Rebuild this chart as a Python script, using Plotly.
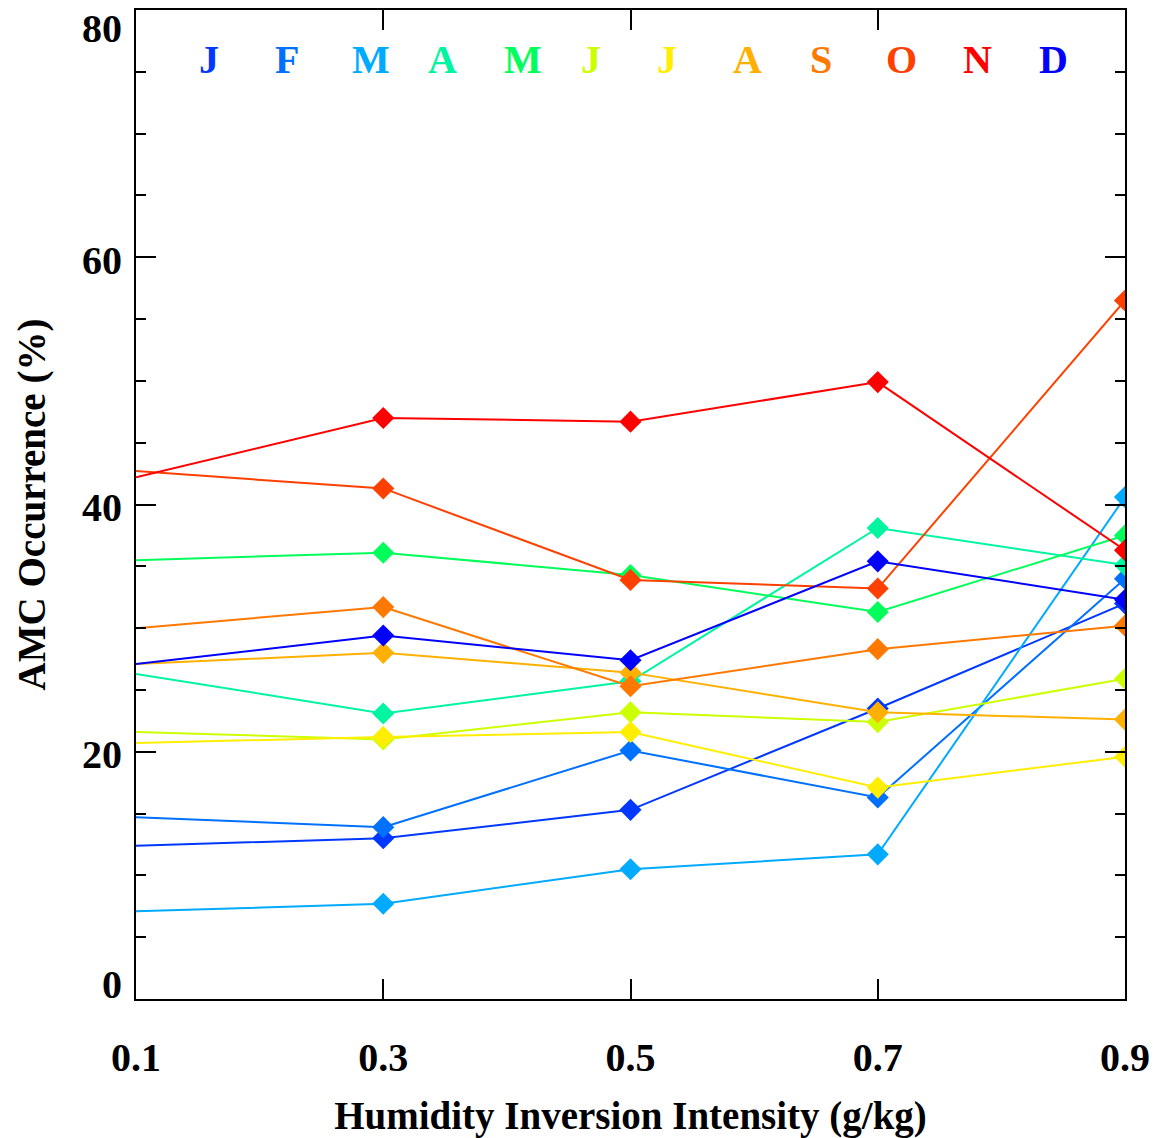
import plotly.graph_objects as go

x_vals = [0.1, 0.3, 0.5, 0.7, 0.9]
x_ticklabels = ["0.1", "0.3", "0.5", "0.7", "0.9"]
y_tickvals = [0, 20, 40, 60, 80]
y_ticklabels = ["0", "20", "40", "60", "80"]

months = ["J", "F", "M", "A", "M", "J", "J", "A", "S", "O", "N", "D"]
month_colors = ["#0038ff", "#0070ff", "#00aaff", "#00f5a0", "#00ff5a", "#ccff00",
                "#ffee00", "#ffb000", "#ff7800", "#ff4000", "#ff0000", "#0000ff"]

jan = [12.4, 13.0, 15.3, 23.5, 32.0]
feb = [14.7, 13.9, 20.1, 16.3, 34.0]
mar = [7.1, 7.7, 10.5, 11.7, 40.6]
apr = [26.3, 23.1, 25.7, 38.1, 35.1]
may = [35.5, 36.1, 34.3, 31.3, 37.5]
jun = [21.6, 21.0, 23.2, 22.4, 25.9]
jul = [20.7, 21.2, 21.6, 17.1, 19.6]
aug = [27.1, 28.0, 26.4, 23.2, 22.6]
sep = [30.0, 31.7, 25.3, 28.3, 30.2]
oct_ = [42.7, 41.3, 33.9, 33.2, 56.5]
nov = [42.2, 47.0, 46.7, 49.9, 36.3]
dec = [27.1, 29.4, 27.4, 35.4, 32.3]

series = [jan, feb, mar, apr, may, jun, jul, aug, sep, oct_, nov, dec]

font_family = "Liberation Serif, Times New Roman, serif"

fig = go.Figure()
for name, vals, col in zip(months, series, month_colors):
    fig.add_trace(go.Scatter(
        x=x_vals, y=vals, mode="lines+markers", name=name,
        line=dict(color=col, width=2),
        marker=dict(symbol="diamond", color=col, size=[0, 17, 17, 17, 17],
                    opacity=1, line=dict(width=0)),
        showlegend=False,
    ))

# month letters along the top
for i, (m, col) in enumerate(zip(months, month_colors)):
    fig.add_annotation(
        x=0.0617 + i * 0.0772, y=0.950, xref="paper", yref="paper",
        text=m, showarrow=False,
        font=dict(family=font_family, size=40, color=col, weight="bold"),
        xanchor="left", yanchor="middle",
    )

tick_font = dict(family=font_family, size=40, color="black", weight="bold")

# y tick labels (IDL-style: top label hangs below the top, bottom label sits above)
for v, lab in zip(y_tickvals, y_ticklabels):
    if v == max(y_tickvals):
        anchor, shift = "top", 6
    elif v == min(y_tickvals):
        anchor, shift = "bottom", -10
    else:
        anchor, shift = "middle", -3
    fig.add_annotation(
        x=0, y=v, xref="paper", yref="y", text=lab, showarrow=False,
        xanchor="right", yanchor=anchor, xshift=-12, yshift=shift,
        font=tick_font,
    )

fig.update_xaxes(
    range=[0.1, 0.9], tickvals=x_vals, ticktext=x_ticklabels,
    ticks="inside", ticklen=20, tickwidth=1.5, tickcolor="black",
    showline=True, linecolor="black", linewidth=2, mirror="ticks",
    showgrid=False, zeroline=False, automargin=False,
    ticklabeloverflow="allow",
    tickfont=tick_font, ticklabelstandoff=22,
    title=dict(text="Humidity Inversion Intensity (g/kg)",
               font=dict(family=font_family, size=39, color="black", weight="bold"),
               standoff=23),
)
fig.update_yaxes(
    range=[0, 80], tickvals=y_tickvals, showticklabels=False,
    ticks="inside", ticklen=20, tickwidth=2, tickcolor="black",
    minor=dict(dtick=5, ticks="inside", ticklen=10, tickwidth=2, tickcolor="black"),
    showline=True, linecolor="black", linewidth=2, mirror="ticks",
    showgrid=False, zeroline=False, automargin=False,
    title=dict(text="AMC Occurrence (%)",
               font=dict(family=font_family, size=39, color="black", weight="bold"),
               standoff=76),
)

fig.update_layout(
    width=1153, height=1138,
    margin=dict(l=136, r=28, t=10, b=139),
    plot_bgcolor="white", paper_bgcolor="white",
)

fig.write_html("out.html")
